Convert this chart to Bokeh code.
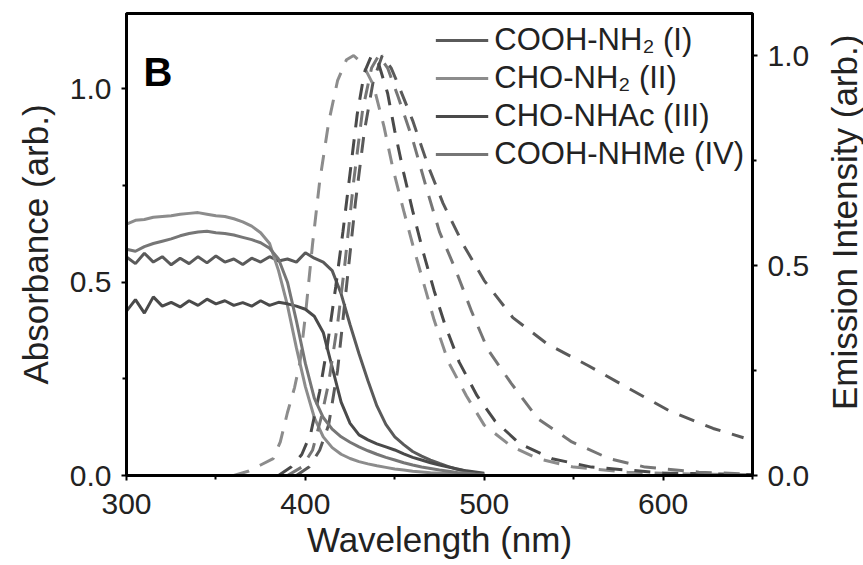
import math
from bokeh.plotting import figure
from bokeh.layouts import row
from bokeh.models import Range1d, LinearAxis, Legend, LegendItem, Label, FixedTicker, NumeralTickFormatter
from bokeh.embed import file_html
from bokeh.resources import INLINE

# ---------------- data ----------------
series_names = ["COOH-NH\u2082 (I)", "CHO-NH\u2082 (II)", "CHO-NHAc (III)", "COOH-NHMe (IV)"]
series_colors = ["#5a5a5a", "#8c8c8c", "#4a4a4a", "#767676"]

abs_nm = [300, 305, 310, 315, 320, 325, 330, 335, 340, 345, 350, 355, 360, 365, 370, 375,
          380, 385, 390, 395, 400, 405, 410, 415, 420, 425, 430, 435, 440, 445, 450, 455,
          460, 465, 470, 475, 480, 485, 490, 495, 500]

abs_I = [0.565, 0.548, 0.575, 0.552, 0.566, 0.545, 0.562, 0.548, 0.566, 0.550, 0.568, 0.552,
         0.560, 0.546, 0.562, 0.552, 0.566, 0.555, 0.560, 0.552, 0.576, 0.562, 0.552, 0.530,
         0.470, 0.390, 0.315, 0.245, 0.180, 0.132, 0.100, 0.080, 0.062, 0.050, 0.040, 0.031,
         0.023, 0.016, 0.011, 0.007, 0.004]
abs_II = [0.650, 0.660, 0.662, 0.668, 0.670, 0.672, 0.676, 0.678, 0.680, 0.676, 0.672, 0.670,
          0.664, 0.656, 0.645, 0.628, 0.600, 0.530, 0.440, 0.330, 0.230, 0.150, 0.100, 0.072,
          0.055, 0.044, 0.036, 0.030, 0.025, 0.021, 0.017, 0.014, 0.011, 0.009, 0.007, 0.006,
          0.005, 0.004, 0.003, 0.002, 0.002]
abs_III = [0.425, 0.455, 0.420, 0.462, 0.438, 0.448, 0.436, 0.452, 0.440, 0.456, 0.444, 0.452,
           0.440, 0.447, 0.438, 0.452, 0.440, 0.448, 0.444, 0.438, 0.430, 0.412, 0.370, 0.280,
           0.190, 0.135, 0.105, 0.092, 0.082, 0.074, 0.066, 0.056, 0.047, 0.040, 0.033, 0.027,
           0.022, 0.017, 0.012, 0.009, 0.006]
abs_IV = [0.585, 0.580, 0.592, 0.600, 0.606, 0.612, 0.620, 0.626, 0.630, 0.632, 0.628, 0.626,
          0.622, 0.616, 0.610, 0.602, 0.588, 0.560, 0.500, 0.400, 0.290, 0.200, 0.150, 0.120,
          0.100, 0.086, 0.074, 0.064, 0.055, 0.047, 0.040, 0.033, 0.027, 0.022, 0.018, 0.014,
          0.011, 0.008, 0.006, 0.004, 0.003]

em_nm_I = [395, 402, 408, 413, 418, 423, 428, 433, 438, 443, 448, 452, 460, 469, 477, 488,
           500, 516, 535, 558, 581, 603, 628, 645]
em_I = [0.0, 0.02, 0.06, 0.12, 0.25, 0.45, 0.65, 0.82, 0.94, 1.0, 0.97, 0.93, 0.845, 0.733,
        0.648, 0.552, 0.464, 0.376, 0.314, 0.262, 0.207, 0.155, 0.112, 0.09]

em_nm_II = [360, 368, 375, 382, 386, 390, 394, 397, 400, 404, 408, 413, 418, 423, 427, 432,
            438, 444, 449, 455, 460, 466, 472, 480, 490, 500, 515, 530, 550, 580, 620, 650]
em_II = [0.0, 0.01, 0.025, 0.04, 0.08, 0.15, 0.21, 0.27, 0.38, 0.55, 0.70, 0.84, 0.94, 0.99,
         1.0, 0.98, 0.93, 0.83, 0.73, 0.63, 0.55, 0.46, 0.37, 0.27, 0.19, 0.12, 0.07, 0.04,
         0.02, 0.008, 0.003, 0.002]

em_nm_III = [385, 392, 398, 403, 408, 412, 417, 421, 425, 429, 433, 437, 441, 446, 450, 455,
             460, 466, 472, 478, 486, 496, 506, 520, 538, 560, 600, 650]
em_III = [0.0, 0.02, 0.05, 0.10, 0.20, 0.30, 0.45, 0.58, 0.72, 0.86, 0.96, 1.0, 0.98, 0.91,
          0.82, 0.72, 0.63, 0.53, 0.44, 0.36, 0.27, 0.19, 0.13, 0.075, 0.04, 0.02, 0.006, 0.002]

em_nm_IV = [390, 398, 404, 409, 413, 418, 422, 427, 432, 437, 441, 446, 452, 460, 468, 475,
            484, 493, 502, 515, 530, 549, 570, 590, 620, 650]
em_IV = [0.0, 0.02, 0.06, 0.14, 0.22, 0.36, 0.50, 0.70, 0.87, 0.97, 1.0, 0.97, 0.90, 0.80,
         0.68, 0.58, 0.49, 0.39, 0.30, 0.22, 0.135, 0.08, 0.04, 0.02, 0.008, 0.003]

x_ticks = [300, 400, 500, 600]
x_minor = [350, 450, 550, 650]
y_ticks = [0.0, 0.5, 1.0]
y_minor = [0.25, 0.75]

# ---------------- main figure ----------------
FONT = "Liberation Sans"

p = figure(width=815, height=565, output_backend="svg", toolbar_location=None,
           x_range=Range1d(300, 650), y_range=Range1d(0, 1.195),
           min_border_left=126, min_border_right=63, min_border_top=13, min_border_bottom=90)
p.extra_y_ranges = {"em": Range1d(0, 1.1)}
p.xgrid.visible = False
p.ygrid.visible = False
p.outline_line_color = "black"
p.outline_line_width = 3
p.background_fill_color = "white"
p.border_fill_color = "white"

right_axis = LinearAxis(y_range_name="em")
p.add_layout(right_axis, "right")

for ax in [p.xaxis[0], p.yaxis[0], right_axis]:
    ax.axis_line_width = 3
    ax.axis_line_color = "black"
    ax.major_tick_line_width = 2
    ax.minor_tick_line_width = 2
    ax.major_tick_out = 5
    ax.major_tick_in = 0
    ax.minor_tick_out = 4
    ax.minor_tick_in = 0
    ax.major_label_text_font = FONT
    ax.major_label_text_font_size = "30px"
    ax.major_label_text_color = "#222222"
    ax.axis_label_text_font = FONT
    ax.axis_label_text_font_size = "35px"
    ax.axis_label_text_font_style = "normal"
    ax.axis_label_text_color = "#222222"

p.xaxis[0].ticker = FixedTicker(ticks=x_ticks, minor_ticks=x_minor)
p.yaxis[0].ticker = FixedTicker(ticks=y_ticks, minor_ticks=y_minor)
right_axis.ticker = FixedTicker(ticks=y_ticks, minor_ticks=y_minor)
p.yaxis[0].formatter = NumeralTickFormatter(format="0.0")
right_axis.formatter = NumeralTickFormatter(format="0.0")

p.xaxis[0].axis_label = "Wavelength (nm)"
p.yaxis[0].axis_label = "Absorbance (arb.)"
p.xaxis[0].major_label_standoff = 13
p.xaxis[0].axis_label_standoff = 3
p.yaxis[0].major_label_standoff = 10
p.yaxis[0].axis_label_standoff = 12
right_axis.major_label_standoff = 10

abs_series = [abs_I, abs_II, abs_III, abs_IV]
em_series = [(em_nm_I, em_I), (em_nm_II, em_II), (em_nm_III, em_III), (em_nm_IV, em_IV)]

items = []
for name, color, a, (enm, ev) in zip(series_names, series_colors, abs_series, em_series):
    r = p.line(abs_nm, a, line_color=color, line_width=3)
    p.line(enm, ev, line_color=color, line_width=3, line_dash="16 12", y_range_name="em")
    items.append(LegendItem(label=name, renderers=[r]))

legend = Legend(items=items, location="top_right")
legend.border_line_color = None
legend.background_fill_alpha = 0
legend.label_text_font = FONT
legend.label_text_font_size = "31px"
legend.label_text_color = "#222222"
legend.glyph_width = 53
legend.glyph_height = 38
legend.label_height = 38
legend.label_standoff = 6
legend.spacing = 0
legend.padding = 4
legend.margin = 8
p.add_layout(legend)

p.add_layout(Label(x=309.5, y=1.044, text="B", text_font=FONT, text_font_size="40px",
                   text_font_style="bold", text_baseline="alphabetic", text_color="black"))

# ---------------- narrow strip holding the right-hand title ----------------
# (reads bottom to top, as in the reference)
p2 = figure(width=48, height=565, output_backend="svg", toolbar_location=None,
            x_range=Range1d(0, 1), y_range=Range1d(0, 1),
            x_axis_type=None, y_axis_type=None, min_border=0)
p2.xgrid.visible = False
p2.ygrid.visible = False
p2.outline_line_color = None
p2.background_fill_color = "white"
p2.border_fill_color = "white"
p2.add_layout(Label(x=0.6, y=0.548, text="Emission Intensity (arb.)", angle=math.pi / 2,
                    text_align="center", text_baseline="middle", text_font=FONT,
                    text_font_size="35px", text_color="#222222"))

layout = row(p, p2, spacing=0)
open("out.html", "w").write(file_html(layout, INLINE))
